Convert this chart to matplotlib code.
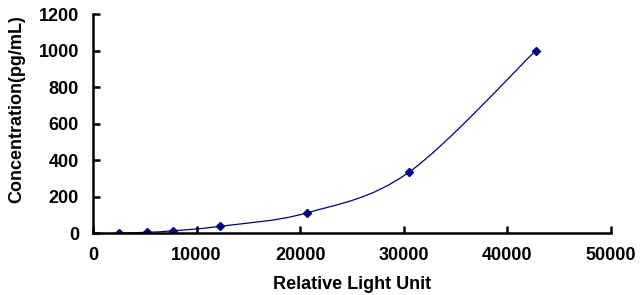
import numpy as np
import matplotlib
matplotlib.use("Agg")
import matplotlib.pyplot as plt
from matplotlib.path import Path
from matplotlib.patches import PathPatch

plt.rcParams["font.family"] = ["Liberation Sans", "DejaVu Sans"]

rlu = [2510, 5240, 7750, 12260, 20690, 30500, 42760]
conc = [0, 4.1, 12.3, 37, 111, 333, 1000]

fig = plt.figure(figsize=(6.43, 2.95), dpi=100)
ax = fig.add_axes([0.1446, 0.210, 0.8054, 0.7425])

# smoothed line (Catmull-Rom style bezier, like a spreadsheet "smoothed line")
x = np.array(rlu, float); y = np.array(conc, float)
verts = [(x[0], y[0])]; codes = [Path.MOVETO]
t = 1 / 6
for i in range(len(x) - 1):
    p0 = (x[max(i - 1, 0)], y[max(i - 1, 0)])
    p1 = (x[i], y[i]); p2 = (x[i + 1], y[i + 1])
    p3 = (x[min(i + 2, len(x) - 1)], y[min(i + 2, len(x) - 1)])
    c1 = (p1[0] + (p2[0] - p0[0]) * t, p1[1] + (p2[1] - p0[1]) * t)
    c2 = (p2[0] - (p3[0] - p1[0]) * t, p2[1] - (p3[1] - p1[1]) * t)
    verts += [c1, c2, p2]; codes += [Path.CURVE4] * 3
ax.add_patch(PathPatch(Path(verts, codes), fc="none", ec="#000080", lw=0.9))
ax.plot(rlu, conc, ls="none", marker="D", ms=4, color="#000080")

ax.set_xlim(0, 50000); ax.set_ylim(0, 1200)
ax.set_xticks(range(0, 50001, 10000)); ax.set_yticks(range(0, 1201, 200))
for s in ["top", "right"]:
    ax.spines[s].set_visible(False)
for s in ["left", "bottom"]:
    ax.spines[s].set_linewidth(1.8)
ax.tick_params(direction="in", length=5, width=1.8, labelsize=13, pad=10)
for lab in ax.get_xticklabels() + ax.get_yticklabels():
    lab.set_fontweight("bold")
ax.set_xlabel("Relative Light Unit", fontsize=13, fontweight="bold", labelpad=9)
ax.set_ylabel("Concentration(pg/mL)", fontsize=13, fontweight="bold")
ax.yaxis.set_label_coords(-0.131, 0.565)

fig.savefig("out.png", dpi=100)
